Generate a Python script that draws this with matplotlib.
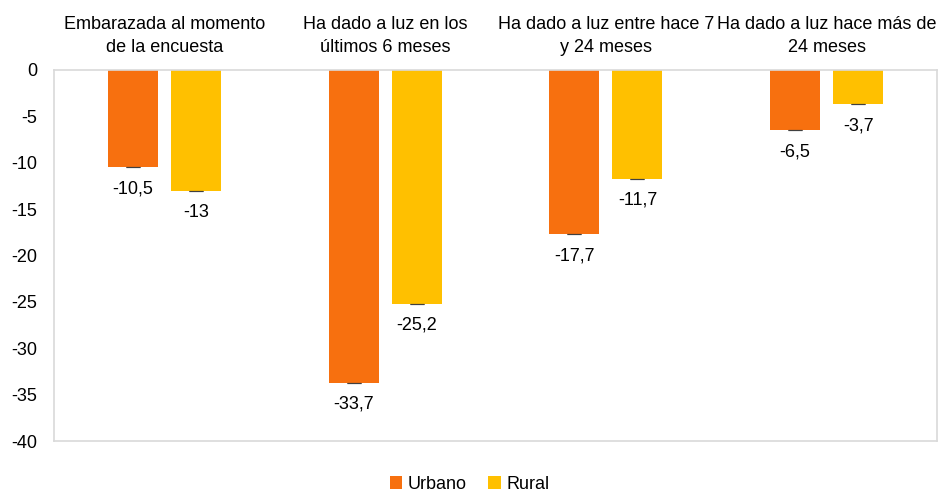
import numpy as np
import matplotlib.pyplot as plt

plt.rcParams['font.family'] = ['Liberation Sans', 'DejaVu Sans']

categories = ["Embarazada al momento\nde la encuesta",
              "Ha dado a luz en los\núltimos 6 meses",
              "Ha dado a luz entre hace 7\ny 24 meses",
              "Ha dado a luz hace más de\n24 meses"]
urbano = [-10.5, -33.7, -17.7, -6.5]
rural = [-13.0, -25.2, -11.7, -3.7]
urbano_labels = ["-10,5", "-33,7", "-17,7", "-6,5"]
rural_labels = ["-13", "-25,2", "-11,7", "-3,7"]

fig = plt.figure(figsize=(9.39, 4.92), dpi=100)
ax = fig.add_axes([54 / 939, 1 - 441 / 492, 883 / 939, 371 / 492])

x = np.arange(len(categories))
w = 0.227
off = 0.143
c_urb = '#F7700F'
c_rur = '#FFC000'
fs = 13

ax.bar(x - off, urbano, w, color=c_urb, label='Urbano')
ax.bar(x + off, rural, w, color=c_rur, label='Rural')
ax.errorbar(x - off, urbano, yerr=0, fmt='none', ecolor='#404040', capsize=5, elinewidth=0.8, capthick=0.8)
ax.errorbar(x + off, rural, yerr=0, fmt='none', ecolor='#404040', capsize=5, elinewidth=0.8, capthick=0.8)

for xi, v, t in zip(x - off, urbano, urbano_labels):
    ax.text(xi, v - 1.4, t, ha='center', va='top', fontsize=fs)
for xi, v, t in zip(x + off, rural, rural_labels):
    ax.text(xi, v - 1.4, t, ha='center', va='top', fontsize=fs)

ax.set_xlim(-0.5, 3.5)
ax.set_ylim(-40, 0)
ax.set_yticks(np.arange(-40, 1, 5))
ax.set_yticklabels([str(v) for v in range(-40, 1, 5)], fontsize=fs)
ax.xaxis.tick_top()
ax.set_xticks(x)
ax.set_xticklabels(categories, fontsize=fs, linespacing=1.5)
ax.tick_params(axis='both', length=0)
ax.tick_params(axis='y', pad=12)
ax.tick_params(axis='x', pad=10)
for s in ax.spines.values():
    s.set_color('#D9D9D9')
    s.set_linewidth(1.2)

fig.legend(loc='lower center', bbox_to_anchor=(0.5, -0.035), ncol=2, frameon=False,
           fontsize=fs, handlelength=0.7, handleheight=0.7, handletextpad=0.3, columnspacing=1.2)

fig.savefig('out.png', dpi=100)
